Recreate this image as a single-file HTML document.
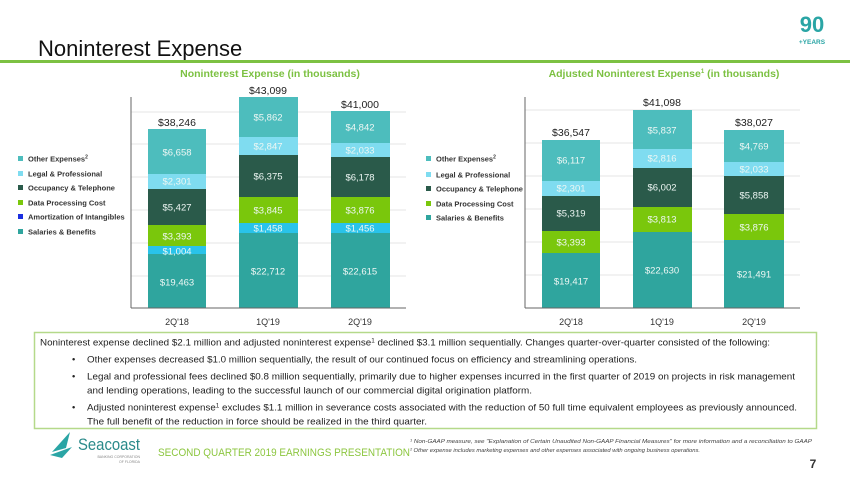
<!DOCTYPE html>
<html><head><meta charset="utf-8"><style>
html,body{margin:0;padding:0;background:#fff;}
svg{display:block;font-family:"Liberation Sans",sans-serif;}
.v{fill:#eef7f4;font-size:9.5px;text-anchor:middle;}
.t{fill:#222;font-size:10.5px;text-anchor:middle;}
.x{fill:#333;font-size:9px;text-anchor:middle;}
.lg{fill:#333;font-size:7.5px;font-weight:bold;}
.p{fill:#222;font-size:9.3px;}
</style></head><body>
<svg width="850" height="479" viewBox="0 0 850 479">
<text x="38" y="56" font-size="22" fill="#111">Noninterest Expense</text>
<rect x="0" y="60" width="850" height="3" fill="#7cc142"/>
<text x="812" y="32" font-size="22" font-weight="bold" fill="#2aa5a5" text-anchor="middle">90</text>
<text x="812" y="44" font-size="6.5" font-weight="bold" fill="#2aa5a5" text-anchor="middle">+YEARS</text>
<text x="270" y="77" font-size="10.5" font-weight="bold" fill="#7cc142" text-anchor="middle">Noninterest Expense (in thousands)</text>
<text x="664" y="77" font-size="10.5" font-weight="bold" fill="#7cc142" text-anchor="middle">Adjusted Noninterest Expense<tspan font-size="6" dy="-4">1</tspan><tspan dy="4"> (in thousands)</tspan></text>
<g stroke="#e6e6e6" stroke-width="1">
<line x1="131" y1="112" x2="406" y2="112"/><line x1="131" y1="144" x2="406" y2="144"/><line x1="131" y1="177" x2="406" y2="177"/><line x1="131" y1="210" x2="406" y2="210"/><line x1="131" y1="243" x2="406" y2="243"/><line x1="131" y1="276" x2="406" y2="276"/>
<line x1="525" y1="110" x2="800" y2="110"/><line x1="525" y1="143" x2="800" y2="143"/><line x1="525" y1="176" x2="800" y2="176"/><line x1="525" y1="209" x2="800" y2="209"/><line x1="525" y1="242" x2="800" y2="242"/><line x1="525" y1="275" x2="800" y2="275"/>
</g>
<!-- left bars -->
<g>
<rect x="148" y="129" width="58" height="45" fill="#4dbdbd"/><rect x="148" y="174" width="58" height="15" fill="#7fdcf0"/><rect x="148" y="189" width="58" height="36" fill="#2a5a4a"/><rect x="148" y="225" width="58" height="21" fill="#7ac70c"/><rect x="148" y="246" width="58" height="8" fill="#29c3ea"/><rect x="148" y="254" width="58" height="54" fill="#2fa59e"/>
<rect x="239" y="97" width="59" height="40" fill="#4dbdbd"/><rect x="239" y="137" width="59" height="18" fill="#7fdcf0"/><rect x="239" y="155" width="59" height="42" fill="#2a5a4a"/><rect x="239" y="197" width="59" height="26" fill="#7ac70c"/><rect x="239" y="223" width="59" height="10" fill="#29c3ea"/><rect x="239" y="233" width="59" height="75" fill="#2fa59e"/>
<rect x="331" y="111" width="59" height="32" fill="#4dbdbd"/><rect x="331" y="143" width="59" height="14" fill="#7fdcf0"/><rect x="331" y="157" width="59" height="40" fill="#2a5a4a"/><rect x="331" y="197" width="59" height="26" fill="#7ac70c"/><rect x="331" y="223" width="59" height="10" fill="#29c3ea"/><rect x="331" y="233" width="59" height="75" fill="#2fa59e"/>
</g>
<g class="v">
<text x="177" y="155.5" class="v">$6,658</text><text x="177" y="184.5" class="v">$2,301</text><text x="177" y="210.5" class="v">$5,427</text><text x="177" y="239.5" class="v">$3,393</text><text x="177" y="254.5" class="v">$1,004</text><text x="177" y="285.5" class="v">$19,463</text>
<text x="268" y="120.5" class="v">$5,862</text><text x="268" y="149.5" class="v">$2,847</text><text x="268" y="179.5" class="v">$6,375</text><text x="268" y="213.5" class="v">$3,845</text><text x="268" y="231.5" class="v">$1,458</text><text x="268" y="274.5" class="v">$22,712</text>
<text x="360" y="130.5" class="v">$4,842</text><text x="360" y="153.5" class="v">$2,033</text><text x="360" y="180.5" class="v">$6,178</text><text x="360" y="213.5" class="v">$3,876</text><text x="360" y="231.5" class="v">$1,456</text><text x="360" y="274.5" class="v">$22,615</text>
</g>
<text x="177" y="126" class="t">$38,246</text><text x="268" y="94" class="t">$43,099</text><text x="360" y="108" class="t">$41,000</text>
<line x1="131" y1="97" x2="131" y2="308" stroke="#666" stroke-width="1"/><line x1="131" y1="308" x2="406" y2="308" stroke="#666" stroke-width="1"/>
<text x="177" y="325" class="x">2Q'18</text><text x="268" y="325" class="x">1Q'19</text><text x="360" y="325" class="x">2Q'19</text>
<!-- right bars -->
<g>
<rect x="542" y="140" width="58" height="41" fill="#4dbdbd"/><rect x="542" y="181" width="58" height="15" fill="#7fdcf0"/><rect x="542" y="196" width="58" height="35" fill="#2a5a4a"/><rect x="542" y="231" width="58" height="22" fill="#7ac70c"/><rect x="542" y="253" width="58" height="55" fill="#2fa59e"/>
<rect x="633" y="110" width="59" height="39" fill="#4dbdbd"/><rect x="633" y="149" width="59" height="19" fill="#7fdcf0"/><rect x="633" y="168" width="59" height="39" fill="#2a5a4a"/><rect x="633" y="207" width="59" height="25" fill="#7ac70c"/><rect x="633" y="232" width="59" height="76" fill="#2fa59e"/>
<rect x="724" y="130" width="60" height="32" fill="#4dbdbd"/><rect x="724" y="162" width="60" height="14" fill="#7fdcf0"/><rect x="724" y="176" width="60" height="38" fill="#2a5a4a"/><rect x="724" y="214" width="60" height="26" fill="#7ac70c"/><rect x="724" y="240" width="60" height="68" fill="#2fa59e"/>
</g>
<text x="571" y="163.5" class="v">$6,117</text><text x="571" y="191.5" class="v">$2,301</text><text x="571" y="216.5" class="v">$5,319</text><text x="571" y="245.5" class="v">$3,393</text><text x="571" y="284.5" class="v">$19,417</text>
<text x="662" y="133.5" class="v">$5,837</text><text x="662" y="161.5" class="v">$2,816</text><text x="662" y="190.5" class="v">$6,002</text><text x="662" y="222.5" class="v">$3,813</text><text x="662" y="273.5" class="v">$22,630</text>
<text x="754" y="149.5" class="v">$4,769</text><text x="754" y="172.5" class="v">$2,033</text><text x="754" y="198.5" class="v">$5,858</text><text x="754" y="230.5" class="v">$3,876</text><text x="754" y="277.5" class="v">$21,491</text>
<text x="571" y="136" class="t">$36,547</text><text x="662" y="106" class="t">$41,098</text><text x="754" y="126" class="t">$38,027</text>
<line x1="525" y1="97" x2="525" y2="308" stroke="#666" stroke-width="1"/><line x1="525" y1="308" x2="800" y2="308" stroke="#666" stroke-width="1"/>
<text x="571" y="325" class="x">2Q'18</text><text x="662" y="325" class="x">1Q'19</text><text x="754" y="325" class="x">2Q'19</text>
<!-- left legend -->
<rect x="18" y="156" width="5" height="5" fill="#4dbdbd"/><text x="28" y="161.5" class="lg">Other Expenses<tspan font-size="5" dy="-3">2</tspan></text>
<rect x="18" y="171" width="5" height="5" fill="#7fdcf0"/><text x="28" y="176.5" class="lg">Legal &amp; Professional</text>
<rect x="18" y="185" width="5" height="5" fill="#2a5a4a"/><text x="28" y="190.5" class="lg">Occupancy &amp; Telephone</text>
<rect x="18" y="200" width="5" height="5" fill="#7ac70c"/><text x="28" y="205.5" class="lg">Data Processing Cost</text>
<rect x="18" y="214" width="5" height="5" fill="#1a2ee0"/><text x="28" y="219.5" class="lg">Amortization of Intangibles</text>
<rect x="18" y="229" width="5" height="5" fill="#2fa59e"/><text x="28" y="234.5" class="lg">Salaries &amp; Benefits</text>
<!-- right legend -->
<rect x="426" y="156" width="5" height="5" fill="#4dbdbd"/><text x="436" y="161.5" class="lg">Other Expenses<tspan font-size="5" dy="-3">2</tspan></text>
<rect x="426" y="172" width="5" height="5" fill="#7fdcf0"/><text x="436" y="177.5" class="lg">Legal &amp; Professional</text>
<rect x="426" y="186" width="5" height="5" fill="#2a5a4a"/><text x="436" y="191.5" class="lg">Occupancy &amp; Telephone</text>
<rect x="426" y="201" width="5" height="5" fill="#7ac70c"/><text x="436" y="206.5" class="lg">Data Processing Cost</text>
<rect x="426" y="215" width="5" height="5" fill="#2fa59e"/><text x="436" y="220.5" class="lg">Salaries &amp; Benefits</text>
<!-- text box -->
<rect x="34.5" y="332.5" width="782" height="96" fill="none" stroke="#b5d98a" stroke-width="1.5"/>
<text x="40" y="345.5" class="p" textLength="730" lengthAdjust="spacingAndGlyphs">Noninterest expense declined $2.1 million and adjusted noninterest expense<tspan font-size="6" dy="-3">1</tspan><tspan dy="3"> declined $3.1 million sequentially. Changes quarter-over-quarter consisted of the following:</tspan></text>
<text x="72" y="362.5" class="p">•</text><text x="87" y="362.5" class="p" textLength="550" lengthAdjust="spacingAndGlyphs">Other expenses decreased $1.0 million sequentially, the result of our continued focus on efficiency and streamlining operations.</text>
<text x="72" y="379.5" class="p">•</text><text x="87" y="379.5" class="p" textLength="708" lengthAdjust="spacingAndGlyphs">Legal and professional fees declined $0.8 million sequentially, primarily due to higher expenses incurred in the first quarter of 2019 on projects in risk management</text>
<text x="87" y="393.5" class="p" textLength="445" lengthAdjust="spacingAndGlyphs">and lending operations, leading to the successful launch of our commercial digital origination platform.</text>
<text x="72" y="410.5" class="p">•</text><text x="87" y="410.5" class="p" textLength="710" lengthAdjust="spacingAndGlyphs">Adjusted noninterest expense<tspan font-size="6" dy="-3">1</tspan><tspan dy="3"> excludes $1.1 million in severance costs associated with the reduction of 50 full time equivalent employees as previously announced.</tspan></text>
<text x="87" y="424.5" class="p" textLength="340" lengthAdjust="spacingAndGlyphs">The full benefit of the reduction in force should be realized in the third quarter.</text>
<!-- footer -->
<path d="M52 452 L70 432 L66 448 Z" fill="#2aa5a5"/><path d="M50 455 L72 447 L62 458 Z" fill="#2aa5a5"/>
<text x="78" y="450" font-size="17" fill="#2a8a8a" textLength="62" lengthAdjust="spacingAndGlyphs">Seacoast</text>
<text x="140" y="458" font-size="3.5" fill="#888" text-anchor="end">BANKING CORPORATION</text>
<text x="140" y="463" font-size="3.5" fill="#888" text-anchor="end">OF FLORIDA</text>
<text x="158" y="456" font-size="11" fill="#8cc63f" textLength="252" lengthAdjust="spacingAndGlyphs">SECOND QUARTER 2019 EARNINGS PRESENTATION</text>
<text x="410" y="443" font-size="5.5" font-style="italic" fill="#444" textLength="402" lengthAdjust="spacingAndGlyphs">¹ Non-GAAP measure, see "Explanation of Certain Unaudited Non-GAAP Financial Measures" for more information and a reconciliation to GAAP</text>
<text x="410" y="452" font-size="5.5" font-style="italic" fill="#444" textLength="290" lengthAdjust="spacingAndGlyphs">² Other expense includes marketing expenses and other expenses associated with ongoing business operations.</text>
<text x="813" y="468" font-size="12" font-weight="bold" fill="#333" text-anchor="middle">7</text>
</svg>
</body></html>
